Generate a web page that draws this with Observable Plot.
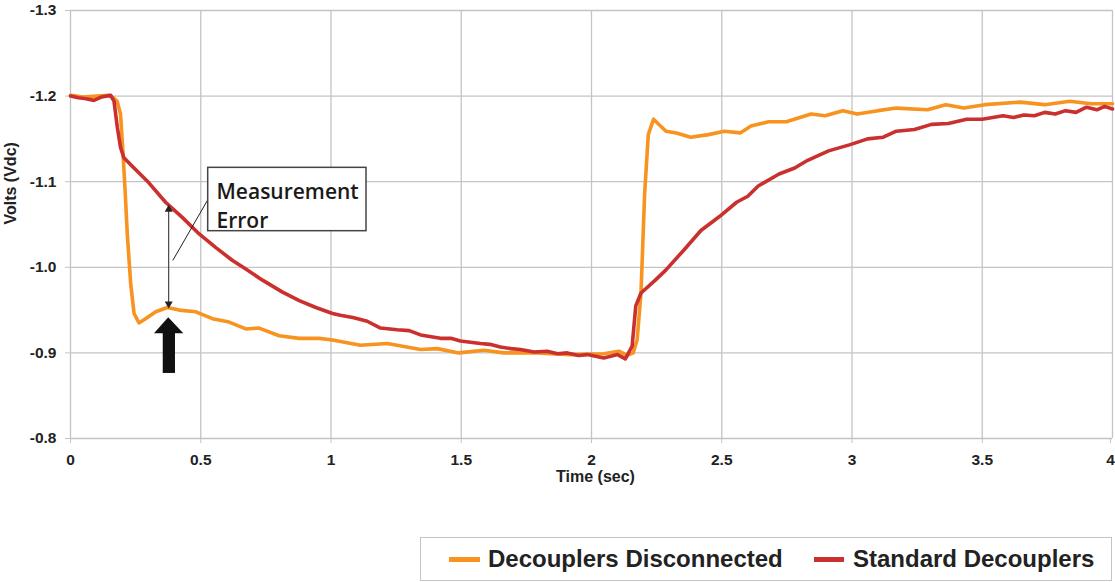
<!DOCTYPE html>
<html>
<head>
<meta charset="utf-8">
<script src="https://cdn.jsdelivr.net/npm/d3@7"></script>
<script src="https://cdn.jsdelivr.net/npm/@observablehq/plot@0.6"></script>
<style>
  html, body { margin: 0; padding: 0; background: #fff; }
  #wrap { position: relative; width: 1115px; height: 582px; }
  #legend {
    position: absolute; left: 420px; top: 537px; width: 690px; height: 42px;
    border: 1.5px solid #c4c4c4; box-sizing: content-box;
    font-family: "Liberation Sans", Arial, sans-serif; font-weight: bold; font-size: 24px; color: #222;
  }
  #legend .sw { position: absolute; top: 19px; height: 4.5px; }
  #legend .lb { position: absolute; top: 7px; line-height: 28px; white-space: nowrap; }
</style>
</head>
<body>
<div id="wrap">
  <div id="chart"></div>
  <div id="legend"></div>
</div>
<script>
// ---- Data ----
const seriesNames = ["Decouplers Disconnected", "Standard Decouplers"];
const seriesColors = ["#F7931E", "#C9302E"];

const disconnectedTime = [0, 0.05, 0.1, 0.147, 0.165, 0.179, 0.192, 0.201, 0.209, 0.218, 0.231, 0.244, 0.263, 0.288, 0.327, 0.372, 0.417, 0.481, 0.545, 0.609, 0.673, 0.724, 0.801, 0.878, 0.955, 1.006, 1.113, 1.216, 1.344, 1.408, 1.49, 1.587, 1.664, 1.79, 1.92, 2.047, 2.105, 2.137, 2.16, 2.175, 2.19, 2.204, 2.218, 2.238, 2.265, 2.286, 2.326, 2.381, 2.449, 2.51, 2.571, 2.612, 2.68, 2.748, 2.843, 2.897, 2.965, 3.02, 3.1, 3.17, 3.29, 3.36, 3.43, 3.51, 3.645, 3.74, 3.836, 3.917, 4.0];
const disconnectedVolts = [-1.201, -1.199, -1.2, -1.201, -1.198, -1.194, -1.179, -1.136, -1.093, -1.039, -0.981, -0.946, -0.935, -0.94, -0.948, -0.953, -0.95, -0.948, -0.94, -0.936, -0.928, -0.929, -0.92, -0.917, -0.917, -0.915, -0.909, -0.911, -0.904, -0.905, -0.9, -0.903, -0.9, -0.9, -0.898, -0.899, -0.902, -0.897, -0.9, -0.915, -0.97, -1.086, -1.155, -1.173, -1.165, -1.159, -1.157, -1.152, -1.155, -1.159, -1.157, -1.165, -1.17, -1.17, -1.179, -1.177, -1.183, -1.179, -1.183, -1.186, -1.184, -1.19, -1.186, -1.19, -1.193, -1.19, -1.194, -1.191, -1.191];

const standardTime = [0, 0.03, 0.06, 0.09, 0.12, 0.154, 0.167, 0.18, 0.192, 0.205, 0.237, 0.3, 0.365, 0.43, 0.494, 0.558, 0.622, 0.673, 0.737, 0.814, 0.878, 0.942, 1.006, 1.036, 1.088, 1.139, 1.19, 1.254, 1.3, 1.344, 1.42, 1.46, 1.497, 1.574, 1.61, 1.65, 1.69, 1.727, 1.78, 1.83, 1.87, 1.907, 1.95, 1.984, 2.047, 2.1, 2.13, 2.156, 2.17, 2.19, 2.245, 2.286, 2.354, 2.42, 2.49, 2.557, 2.6, 2.64, 2.72, 2.78, 2.83, 2.91, 2.99, 3.06, 3.12, 3.17, 3.24, 3.305, 3.37, 3.44, 3.5, 3.58, 3.62, 3.66, 3.7, 3.74, 3.78, 3.82, 3.86, 3.9, 3.94, 3.97, 4.0];
const standardVolts = [-1.2, -1.198, -1.197, -1.195, -1.199, -1.201, -1.194, -1.163, -1.14, -1.128, -1.118, -1.099, -1.076, -1.058, -1.039, -1.023, -1.008, -0.998, -0.985, -0.971, -0.961, -0.953, -0.946, -0.944, -0.941, -0.937, -0.929, -0.927, -0.926, -0.921, -0.917, -0.917, -0.914, -0.911, -0.910, -0.907, -0.905, -0.904, -0.901, -0.902, -0.899, -0.9, -0.897, -0.898, -0.894, -0.898, -0.893, -0.908, -0.955, -0.97, -0.985, -0.997, -1.02, -1.043, -1.059, -1.076, -1.083, -1.095, -1.109, -1.116, -1.125, -1.136, -1.143, -1.15, -1.152, -1.159, -1.161, -1.167, -1.168, -1.173, -1.173, -1.177, -1.175, -1.178, -1.177, -1.181, -1.179, -1.183, -1.181, -1.187, -1.184, -1.188, -1.185];

const xTicks = [0, 0.5, 1, 1.5, 2, 2.5, 3, 3.5, 4];
const yTicks = [-1.3, -1.2, -1.1, -1.0, -0.9, -0.8];

// ---- Annotation anchors (data units) ----
const errorTime = 0.377;
const errorTop = -1.070;
const errorBottom = -0.955;
const leader = {x1: 0.3927, y1: -1.008, x2: 0.531, y2: -1.081};
const noteBox = {x1: 0.5286, x2: 1.1363, y1: -1.1162, y2: -1.0422};
const noteText = {x: 0.5605, y: -1.1038, text: "Measurement\nError"};
const bigArrowHead = [
  {x: 0.3225, y1: -0.9224, y2: -0.9224},
  {x: 0.377, y1: -0.9224, y2: -0.941},
  {x: 0.435, y1: -0.9224, y2: -0.9224}
];
const bigArrowShaft = {x1: 0.356, x2: 0.403, y1: -0.876, y2: -0.9235};

// ---- Build tables ----
const disconnected = disconnectedTime.map((t, i) => ({t, v: disconnectedVolts[i]}));
const standard = standardTime.map((t, i) => ({t, v: standardVolts[i]}));

const grid = "#c4c4c4";
const ink = "#222";
const innerTicks = xTicks.slice(0, -1);
const lastTick = xTicks.slice(-1);

const chart = Plot.plot({
  width: 1115,
  height: 500,
  marginLeft: 70,
  marginRight: 3,
  marginTop: 10,
  marginBottom: 62,
  style: {fontFamily: "'Liberation Sans', Arial, sans-serif", fontSize: "15.5px", fontWeight: "bold", background: "#fff", color: ink},
  x: {domain: [0, 4], label: null},
  y: {domain: [-0.8, -1.3], label: null},
  marks: [
    Plot.gridX(xTicks, {stroke: grid, strokeOpacity: 1, strokeWidth: 1.3}),
    Plot.gridY(yTicks, {stroke: grid, strokeOpacity: 1, strokeWidth: 1.3}),
    Plot.axisX(innerTicks, {tickSize: 5, tickPadding: 10, stroke: grid, fill: ink, label: null, tickFormat: d => String(d)}),
    Plot.axisX(lastTick, {tickSize: 5, tickPadding: 10, stroke: grid, fill: ink, label: null, tickFormat: d => String(d), dx: -2}),
    Plot.axisY(yTicks, {tickSize: 5, tickPadding: 9, stroke: grid, fill: ink, label: null, tickFormat: d => d.toFixed(1)}),
    Plot.text(["Volts (Vdc)"], {frameAnchor: "left", dx: -60, rotate: -90, fill: ink, fontSize: 16, fontWeight: "bold"}),
    Plot.text(["Time (sec)"], {frameAnchor: "bottom", dy: 43, dx: 4, fill: ink, fontSize: 16, fontWeight: "bold"}),
    Plot.line(disconnected, {x: "t", y: "v", stroke: seriesColors[0], strokeWidth: 3.6, strokeLinejoin: "round", strokeLinecap: "round"}),
    Plot.line(standard, {x: "t", y: "v", stroke: seriesColors[1], strokeWidth: 3.6, strokeLinejoin: "round", strokeLinecap: "round"}),
    // measurement error double arrow
    Plot.ruleX([{x: errorTime, y1: errorTop, y2: errorBottom}], {x: "x", y1: "y1", y2: "y2", stroke: ink, strokeWidth: 1}),
    Plot.dot([{x: errorTime, y: errorTop}], {x: "x", y: "y", symbol: "triangle", r: 3, fill: ink, stroke: "none", dy: 2}),
    Plot.dot([{x: errorTime, y: errorBottom}], {x: "x", y: "y", symbol: "triangle", r: 3, fill: ink, stroke: "none", rotate: 180, dy: -2}),
    Plot.link([leader], {x1: "x1", y1: "y1", x2: "x2", y2: "y2", stroke: ink, strokeWidth: 1}),
    Plot.rect([noteBox], {x1: "x1", x2: "x2", y1: "y1", y2: "y2", fill: "#fff", stroke: "#444", strokeWidth: 1.5}),
    Plot.text([noteText], {x: "x", y: "y", text: "text", textAnchor: "start", lineAnchor: "top", lineHeight: 1.37, fontFamily: "'Open Sans', sans-serif", fontWeight: 600, fontSize: 21, fill: "#1a1a1a"}),
    // big black arrow
    Plot.areaY(bigArrowHead, {x: "x", y1: "y1", y2: "y2", fill: "#111"}),
    Plot.rect([bigArrowShaft], {x1: "x1", x2: "x2", y1: "y1", y2: "y2", fill: "#111"})
  ]
});
document.getElementById("chart").appendChild(chart);

// ---- Legend ----
const legend = document.getElementById("legend");
const legendLayout = [
  {sw: 28, swW: 31, lb: 67},
  {sw: 393, swW: 30, lb: 432}
];
seriesNames.forEach((name, i) => {
  const sw = document.createElement("span");
  sw.className = "sw";
  sw.style.left = legendLayout[i].sw + "px";
  sw.style.width = legendLayout[i].swW + "px";
  sw.style.background = seriesColors[i];
  const lb = document.createElement("span");
  lb.className = "lb";
  lb.style.left = legendLayout[i].lb + "px";
  lb.textContent = name;
  legend.appendChild(sw);
  legend.appendChild(lb);
});
</script>
</body>
</html>
